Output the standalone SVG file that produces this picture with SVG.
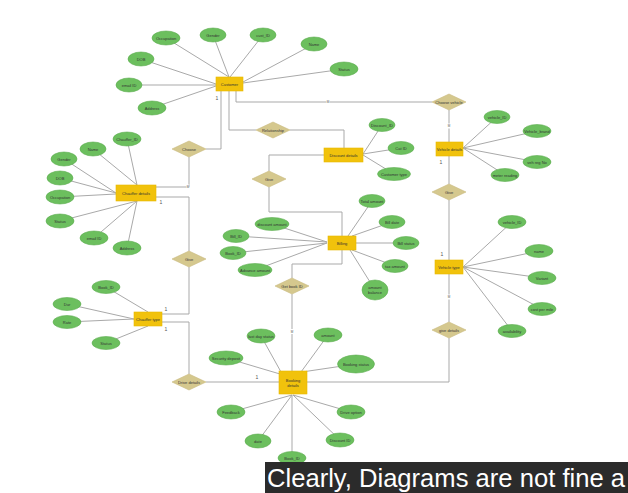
<svg xmlns="http://www.w3.org/2000/svg" width="628" height="493" viewBox="0 0 628 493">
<style>
.bg{fill:#ffffff}
.con line,.con path{stroke:#a9a9a9;stroke-width:1;fill:none}
.att ellipse{fill:#6cbf5e;stroke:#5cad4f;stroke-width:0.6}
.ent rect{fill:#f1c20c;stroke:#e8b800;stroke-width:0.6}
.rel polygon{fill:#d5c88e;stroke:#c9bb80;stroke-width:0.6}
text{font-family:"Liberation Sans",Arial,sans-serif;font-size:4px;fill:#333;text-anchor:middle;dominant-baseline:central}
.card{font-size:5px;fill:#555}
.mk{fill:#ffffff}
.cap{font-size:25.6px;fill:#ffffff;text-anchor:start;dominant-baseline:alphabetic}
</style>
<rect class="bg" x="0" y="0" width="628" height="493"/>
<g id="connectors" class="con">
<!-- customer attributes -->
<line x1="166" y1="38" x2="229" y2="77"/>
<line x1="213" y1="35" x2="229" y2="77"/>
<line x1="263" y1="35" x2="230" y2="77"/>
<line x1="314" y1="44" x2="243" y2="82"/>
<line x1="344" y1="69" x2="243" y2="83"/>
<line x1="141" y1="59" x2="216" y2="84"/>
<line x1="129" y1="85" x2="216" y2="85"/>
<line x1="152" y1="108" x2="216" y2="86"/>
<!-- chauffer details attributes -->
<line x1="127" y1="139" x2="137" y2="185"/>
<line x1="93" y1="149" x2="137" y2="185"/>
<line x1="64" y1="159" x2="116" y2="193"/>
<line x1="60" y1="178" x2="116" y2="193"/>
<line x1="60" y1="197" x2="116" y2="194"/>
<line x1="60" y1="221" x2="137" y2="201"/>
<line x1="94" y1="238" x2="137" y2="201"/>
<line x1="127" y1="248" x2="137" y2="201"/>
<!-- chauffer type attributes -->
<line x1="106" y1="287" x2="148" y2="312"/>
<line x1="67" y1="304" x2="134" y2="319"/>
<line x1="67" y1="322" x2="134" y2="319"/>
<line x1="106" y1="343" x2="148" y2="326"/>
<!-- discount attributes -->
<line x1="382" y1="125" x2="363" y2="154"/>
<line x1="401" y1="148" x2="363" y2="154"/>
<line x1="394" y1="174" x2="363" y2="155"/>
<!-- billing attributes -->
<line x1="372" y1="201" x2="348" y2="236"/>
<line x1="392" y1="222" x2="352" y2="236"/>
<line x1="406" y1="243" x2="356" y2="243"/>
<line x1="395" y1="266" x2="352" y2="250"/>
<line x1="375" y1="290" x2="350" y2="250"/>
<line x1="272" y1="224" x2="327" y2="242"/>
<line x1="236" y1="236" x2="327" y2="242"/>
<line x1="233" y1="253" x2="327" y2="243"/>
<line x1="255" y1="270" x2="327" y2="243"/>
<!-- vehicle details attributes -->
<line x1="497" y1="117" x2="463" y2="148"/>
<line x1="537" y1="131" x2="463" y2="148"/>
<line x1="537" y1="162" x2="463" y2="148"/>
<line x1="505" y1="175" x2="463" y2="148"/>
<!-- vehicle type attributes -->
<line x1="512" y1="222" x2="463" y2="267"/>
<line x1="539" y1="251" x2="463" y2="267"/>
<line x1="542" y1="278" x2="463" y2="267"/>
<line x1="542" y1="309" x2="463" y2="267"/>
<line x1="512" y1="331" x2="463" y2="267"/>
<!-- booking attributes -->
<line x1="261" y1="336" x2="281" y2="372"/>
<line x1="226" y1="358" x2="280" y2="374"/>
<line x1="328" y1="335" x2="301" y2="372"/>
<line x1="356" y1="364" x2="302" y2="372"/>
<line x1="231" y1="412" x2="292" y2="395"/>
<line x1="258" y1="441" x2="292" y2="395"/>
<line x1="292" y1="458" x2="292" y2="395"/>
<line x1="340" y1="440" x2="293" y2="395"/>
<line x1="351" y1="412" x2="293" y2="395"/>
<!-- relationships -->
<path d="M236,91 V102 H432"/>
<path d="M229,91 V130 H256"/>
<path d="M290,130 H344 V148"/>
<path d="M221,91 V149 H206"/>
<path d="M189,157 V187 H156"/>
<path d="M156,197 H189 V251"/>
<path d="M189,267 V314 H162"/>
<path d="M162,322 H189 V374"/>
<path d="M206,382 H279"/>
<path d="M307,382 H449 V338"/>
<path d="M449,322 V274"/>
<path d="M449,260 V200"/>
<path d="M449,184 V156"/>
<path d="M449,142 V110"/>
<path d="M324,155 H269 V171"/>
<path d="M269,187 V212 H342 V236"/>
<path d="M342,250 V264 H292 V278"/>
<path d="M292,294 V371"/>
</g>
<g id="cardinality">
<rect class="mk" x="326.5" y="99.5" width="3" height="5"/><text class="card" x="328" y="102" style="font-size:3px">M</text>
<rect class="mk" x="447.5" y="123.5" width="3" height="5"/><text class="card" x="449" y="126" style="font-size:3px">M</text>
<rect class="mk" x="186.5" y="184.5" width="3" height="5"/><text class="card" x="188" y="187" style="font-size:3px">M</text>
<rect class="mk" x="447.5" y="294.5" width="3" height="5"/><text class="card" x="449" y="297" style="font-size:3px">M</text>
<rect class="mk" x="290.5" y="329" width="3" height="5"/><text class="card" x="292" y="331.5" style="font-size:3px">M</text>
<text class="card" x="217" y="98">1</text>
<text class="card" x="161" y="202">1</text>
<text class="card" x="166" y="309">1</text>
<text class="card" x="166" y="329">1</text>
<text class="card" x="257" y="377">1</text>
<text class="card" x="441" y="162">1</text>
<text class="card" x="442" y="254">1</text>
</g>
<!-- entities -->
<g id="customer" class="ent"><rect x="216" y="77" width="27" height="14"/><text x="229.5" y="84">Customer</text></g>
<g id="chauffer-details" class="ent"><rect x="116" y="185" width="40" height="16"/><text x="136" y="193">Chauffer details</text></g>
<g id="chauffer-type" class="ent"><rect x="134" y="312" width="28" height="14"/><text x="148" y="319">Chauffer type</text></g>
<g id="discount-details" class="ent"><rect x="324" y="148" width="39" height="14"/><text x="343.5" y="155">Discount details</text></g>
<g id="billing" class="ent"><rect x="328" y="236" width="28" height="14"/><text x="342" y="243">Billing</text></g>
<g id="vehicle-details" class="ent"><rect x="436" y="142" width="27" height="14"/><text x="449.5" y="149">Vehicle details</text></g>
<g id="vehicle-type" class="ent"><rect x="435" y="260" width="28" height="14"/><text x="449" y="267">Vehicle type</text></g>
<g id="booking-details" class="ent"><rect x="279" y="371" width="28" height="23"/><text x="293" y="380">Booking</text><text x="293" y="385.5">details</text></g>
<!-- relationships -->
<g id="rel-choose" class="rel"><polygon points="172,149 189,141 206,149 189,157"/><text x="189" y="149">Choose</text></g>
<g id="rel-relationship" class="rel"><polygon points="256,130 273,122 290,130 273,138"/><text x="273" y="130">Relationship</text></g>
<g id="rel-choose-vehicle" class="rel"><polygon points="432,102 449,94 466,102 449,110"/><text x="449" y="102">Choose vehicle</text></g>
<g id="rel-give-mid" class="rel"><polygon points="252,179 269,171 286,179 269,187"/><text x="269" y="179">Give</text></g>
<g id="rel-give-left" class="rel"><polygon points="172,259 189,251 206,259 189,267"/><text x="189" y="259">Give</text></g>
<g id="rel-give-right" class="rel"><polygon points="432,192 449,184 466,192 449,200"/><text x="449" y="192">Give</text></g>
<g id="rel-get-book-id" class="rel"><polygon points="275,286 292,278 309,286 292,294"/><text x="292" y="286">Get book ID</text></g>
<g id="rel-give-details" class="rel"><polygon points="432,330 449,322 466,330 449,338"/><text x="449" y="330">give details</text></g>
<g id="rel-drive-details" class="rel"><polygon points="172,382 189,374 206,382 189,390"/><text x="189" y="382">Drive details</text></g>
<!-- customer attributes -->
<g id="c-occupation" class="att"><ellipse cx="166" cy="38" rx="14" ry="7"/><text x="166" y="38">Occupation</text></g>
<g id="c-gender" class="att"><ellipse cx="213" cy="35" rx="13" ry="7"/><text x="213" y="35">Gender</text></g>
<g id="c-custid" class="att"><ellipse cx="263" cy="35" rx="13" ry="7"/><text x="263" y="35">cust_ID</text></g>
<g id="c-name" class="att"><ellipse cx="314" cy="44" rx="13" ry="7"/><text x="314" y="44">Name</text></g>
<g id="c-status" class="att"><ellipse cx="344" cy="69" rx="14" ry="7"/><text x="344" y="69">Status</text></g>
<g id="c-dob" class="att"><ellipse cx="141" cy="59" rx="13" ry="7"/><text x="141" y="59">DOB</text></g>
<g id="c-email" class="att"><ellipse cx="129" cy="85" rx="13" ry="7"/><text x="129" y="85">email ID</text></g>
<g id="c-address" class="att"><ellipse cx="152" cy="108" rx="14" ry="7"/><text x="152" y="108">Address</text></g>
<!-- chauffer details attributes -->
<g id="cd-id" class="att"><ellipse cx="127" cy="139" rx="14" ry="7"/><text x="127" y="139">Chauffer_ID</text></g>
<g id="cd-name" class="att"><ellipse cx="93" cy="149" rx="13" ry="7"/><text x="93" y="149">Name</text></g>
<g id="cd-gender" class="att"><ellipse cx="64" cy="159" rx="13" ry="7"/><text x="64" y="159">Gender</text></g>
<g id="cd-dob" class="att"><ellipse cx="60" cy="178" rx="13" ry="7"/><text x="60" y="178">DOB</text></g>
<g id="cd-occupation" class="att"><ellipse cx="60" cy="197" rx="14" ry="7"/><text x="60" y="197">Occupation</text></g>
<g id="cd-status" class="att"><ellipse cx="60" cy="221" rx="14" ry="7"/><text x="60" y="221">Status</text></g>
<g id="cd-email" class="att"><ellipse cx="94" cy="238" rx="14" ry="7"/><text x="94" y="238">email ID</text></g>
<g id="cd-address" class="att"><ellipse cx="127" cy="248" rx="14" ry="7"/><text x="127" y="248">Address</text></g>
<!-- chauffer type attributes -->
<g id="ct-bookid" class="att"><ellipse cx="106" cy="287" rx="14" ry="6.5"/><text x="106" y="287">Book_ID</text></g>
<g id="ct-dur" class="att"><ellipse cx="67" cy="304" rx="14" ry="6.5"/><text x="67" y="304">Dur</text></g>
<g id="ct-rate" class="att"><ellipse cx="67" cy="322" rx="14" ry="6.5"/><text x="67" y="322">Rate</text></g>
<g id="ct-status" class="att"><ellipse cx="106" cy="343" rx="14" ry="6.5"/><text x="106" y="343">Status</text></g>
<!-- discount attributes -->
<g id="d-id" class="att"><ellipse cx="382" cy="125" rx="13" ry="6.5"/><text x="382" y="125">Discount_ID</text></g>
<g id="d-cat" class="att"><ellipse cx="401" cy="148" rx="13" ry="6.5"/><text x="401" y="148">Cat ID</text></g>
<g id="d-type" class="att"><ellipse cx="394" cy="174" rx="16.5" ry="6.5"/><text x="394" y="174">Customer type</text></g>
<!-- billing attributes -->
<g id="b-total" class="att"><ellipse cx="372" cy="201" rx="13" ry="6.5"/><text x="372" y="201">Total amount</text></g>
<g id="b-date" class="att"><ellipse cx="392" cy="222" rx="13" ry="6.5"/><text x="392" y="222">Bill date</text></g>
<g id="b-status" class="att"><ellipse cx="406" cy="243" rx="13" ry="6.5"/><text x="406" y="243">Bill status</text></g>
<g id="b-tax" class="att"><ellipse cx="395" cy="266" rx="13" ry="6.5"/><text x="395" y="266">tax amount</text></g>
<g id="b-balance" class="att"><ellipse cx="375" cy="290" rx="13" ry="10"/><text x="375" y="287.5">amount</text><text x="375" y="292.5">balance</text></g>
<g id="b-discount" class="att"><ellipse cx="272" cy="224" rx="17" ry="6.5"/><text x="272" y="224">discount amount</text></g>
<g id="b-billid" class="att"><ellipse cx="236" cy="236" rx="13" ry="6.5"/><text x="236" y="236">Bill_ID</text></g>
<g id="b-bookid" class="att"><ellipse cx="233" cy="253" rx="13" ry="6.5"/><text x="233" y="253">Book_ID</text></g>
<g id="b-advance" class="att"><ellipse cx="255" cy="270" rx="17" ry="6.5"/><text x="255" y="270">Advance amount</text></g>
<!-- vehicle details attributes -->
<g id="vd-id" class="att"><ellipse cx="497" cy="117" rx="13" ry="6.5"/><text x="497" y="117">vehicle_ID</text></g>
<g id="vd-brand" class="att"><ellipse cx="537" cy="131" rx="14" ry="6.5"/><text x="537" y="131">Vehicle_brand</text></g>
<g id="vd-reg" class="att"><ellipse cx="537" cy="162" rx="14" ry="6.5"/><text x="537" y="162">veh reg No</text></g>
<g id="vd-meter" class="att"><ellipse cx="505" cy="175" rx="14" ry="6.5"/><text x="505" y="175">meter reading</text></g>
<!-- vehicle type attributes -->
<g id="vt-id" class="att"><ellipse cx="512" cy="222" rx="14" ry="6.5"/><text x="512" y="222">vehicle_ID</text></g>
<g id="vt-name" class="att"><ellipse cx="539" cy="251" rx="14" ry="6.5"/><text x="539" y="251">name</text></g>
<g id="vt-variant" class="att"><ellipse cx="542" cy="278" rx="14" ry="6.5"/><text x="542" y="278">Variant</text></g>
<g id="vt-cost" class="att"><ellipse cx="542" cy="309" rx="14" ry="6.5"/><text x="542" y="309">cost per mile</text></g>
<g id="vt-avail" class="att"><ellipse cx="512" cy="331" rx="14" ry="6.5"/><text x="512" y="331">availability</text></g>
<!-- booking attributes -->
<g id="bk-lastday" class="att"><ellipse cx="261" cy="336" rx="14" ry="7"/><text x="261" y="336">last day status</text></g>
<g id="bk-amount" class="att"><ellipse cx="328" cy="335" rx="14" ry="7"/><text x="328" y="335">amount</text></g>
<g id="bk-status" class="att"><ellipse cx="356" cy="364" rx="18.5" ry="9"/><text x="356" y="364">Booking status</text></g>
<g id="bk-deposit" class="att"><ellipse cx="226" cy="358" rx="17" ry="7"/><text x="226" y="358">Security deposit</text></g>
<g id="bk-feedback" class="att"><ellipse cx="231" cy="412" rx="14" ry="7"/><text x="231" y="412">Feedback</text></g>
<g id="bk-drive" class="att"><ellipse cx="351" cy="412" rx="14" ry="7"/><text x="351" y="412">Drive option</text></g>
<g id="bk-date" class="att"><ellipse cx="258" cy="441" rx="13" ry="7"/><text x="258" y="441">date</text></g>
<g id="bk-discount" class="att"><ellipse cx="340" cy="440" rx="14" ry="7"/><text x="340" y="440">Discount ID</text></g>
<g id="bk-bookid" class="att"><ellipse cx="292" cy="458" rx="14" ry="6.5"/><text x="292" y="458">Book_ID</text></g>
<!-- caption -->
<g id="caption"><rect x="265" y="462" width="363" height="31" fill="#2b2b2b"/><text class="cap" x="267" y="486.5">Clearly, Diagrams are not fine a</text></g>
</svg>
